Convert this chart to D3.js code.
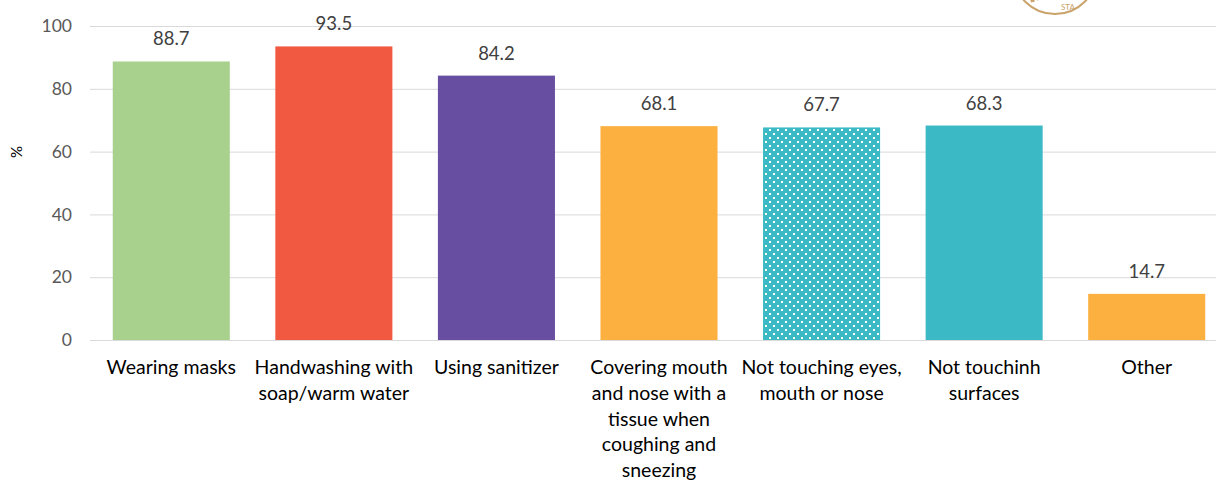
<!DOCTYPE html>
<html>
<head>
<meta charset="utf-8">
<script src="https://cdnjs.cloudflare.com/ajax/libs/d3/7.8.5/d3.min.js"></script>
<style>
  body { margin: 0; background: #fff; }
  svg text { font-family: Lato, "Open Sans", sans-serif; }
</style>
</head>
<body>
<div id="chart"></div>
<script>
// categories, split into the lines shown under each bar
var categories = [
  ["Wearing masks"],
  ["Handwashing with", "soap/warm water"],
  ["Using sanitizer"],
  ["Covering mouth", "and nose with a", "tissue when", "coughing and", "sneezing"],
  ["Not touching eyes,", "mouth or nose"],
  ["Not touchinh", "surfaces"],
  ["Other"]
];
var values = [88.7, 93.5, 84.2, 68.1, 67.7, 68.3, 14.7];
var barColors = ["#a9d18e", "#f15a40", "#684ea0", "#fbb040", "#3bbac6", "#3bbac6", "#fbb040"];
var yTicks = [0, 20, 40, 60, 80, 100];

var W = 1216, H = 480;
var svg = d3.select("#chart").append("svg")
  .attr("width", W)
  .attr("height", H);

// dotted pattern for the "not touching eyes" bar
var defs = svg.append("defs");
var pat = defs.append("pattern")
  .attr("id", "dots")
  .attr("patternUnits", "userSpaceOnUse")
  .attr("width", 8).attr("height", 8);
pat.append("rect").attr("width", 8).attr("height", 8).attr("fill", "#3bbac6");
pat.append("rect").attr("x", 1).attr("y", 1).attr("width", 2).attr("height", 2).attr("fill", "#fff");
pat.append("rect").attr("x", 5).attr("y", 5).attr("width", 2).attr("height", 2).attr("fill", "#fff");

var x = d3.scaleBand()
  .domain(d3.range(categories.length))
  .range([90, 1228])
  .paddingInner(0.28)
  .paddingOuter(0.14);

var y = d3.scaleLinear()
  .domain([0, 100])
  .range([340, 26]);

// gridlines
svg.append("g").selectAll("line")
  .data(yTicks)
  .enter()
  .append("line")
  .attr("x1", 90).attr("x2", W)
  .attr("y1", function (d) { return y(d) + 0.5; })
  .attr("y2", function (d) { return y(d) + 0.5; })
  .style("stroke", "#d9d9d9")
  .style("stroke-width", 1);

// y axis labels
var yAxis = svg.append("g")
  .attr("transform", "translate(72,0)")
  .call(d3.axisLeft(y).tickValues(yTicks).tickSize(0).tickPadding(0));
yAxis.select(".domain").remove();
yAxis.selectAll("text")
  .style("font-size", "17.5px")
  .style("fill", "#595959");

svg.append("text")
  .attr("transform", "translate(22,152) rotate(-90)")
  .attr("text-anchor", "middle")
  .style("font-size", "15px")
  .style("fill", "#000")
  .text("%");

// bars
svg.append("g").selectAll("rect")
  .data(values)
  .enter()
  .append("rect")
  .attr("x", function (d, i) { return x(i); })
  .attr("y", function (d) { return y(d); })
  .attr("width", x.bandwidth())
  .attr("height", function (d) { return y(0) - y(d); })
  .style("fill", function (d, i) { return i === 4 ? "url(#dots)" : barColors[i]; });

// value labels
svg.append("g").selectAll("text")
  .data(values)
  .enter()
  .append("text")
  .attr("x", function (d, i) { return x(i) + x.bandwidth() / 2; })
  .attr("y", function (d) { return y(d) - 16; })
  .attr("text-anchor", "middle")
  .style("font-size", "18.5px")
  .style("fill", "#404040")
  .text(function (d) { return d.toFixed(1); });

// category labels
var cat = svg.append("g").selectAll("text")
  .data(categories)
  .enter()
  .append("text")
  .attr("x", function (d, i) { return x(i) + x.bandwidth() / 2; })
  .attr("y", 374)
  .attr("text-anchor", "middle")
  .style("font-size", "19.5px")
  .style("fill", "#000");
cat.selectAll("tspan")
  .data(function (d) { return d; })
  .enter()
  .append("tspan")
  .attr("x", function () { return d3.select(this.parentNode).attr("x"); })
  .attr("dy", function (d, i) { return i === 0 ? 0 : 25.8; })
  .text(function (d) { return d; });

// partial seal logo at top right
var logo = svg.append("g").attr("transform", "translate(1055,-28)");
logo.append("circle")
  .attr("r", 42)
  .style("fill", "none")
  .style("stroke", "#c9a36a")
  .style("stroke-width", 2);
logo.append("path")
  .attr("d", "M-30,5 L-22,30 M-24,2 L-16,28")
  .style("stroke", "#c9a36a")
  .style("stroke-width", 4);
logo.append("text")
  .attr("x", 6).attr("y", 38)
  .style("font-size", "8px")
  .style("fill", "#c9a36a")
  .text("STA");
</script>
</body>
</html>
